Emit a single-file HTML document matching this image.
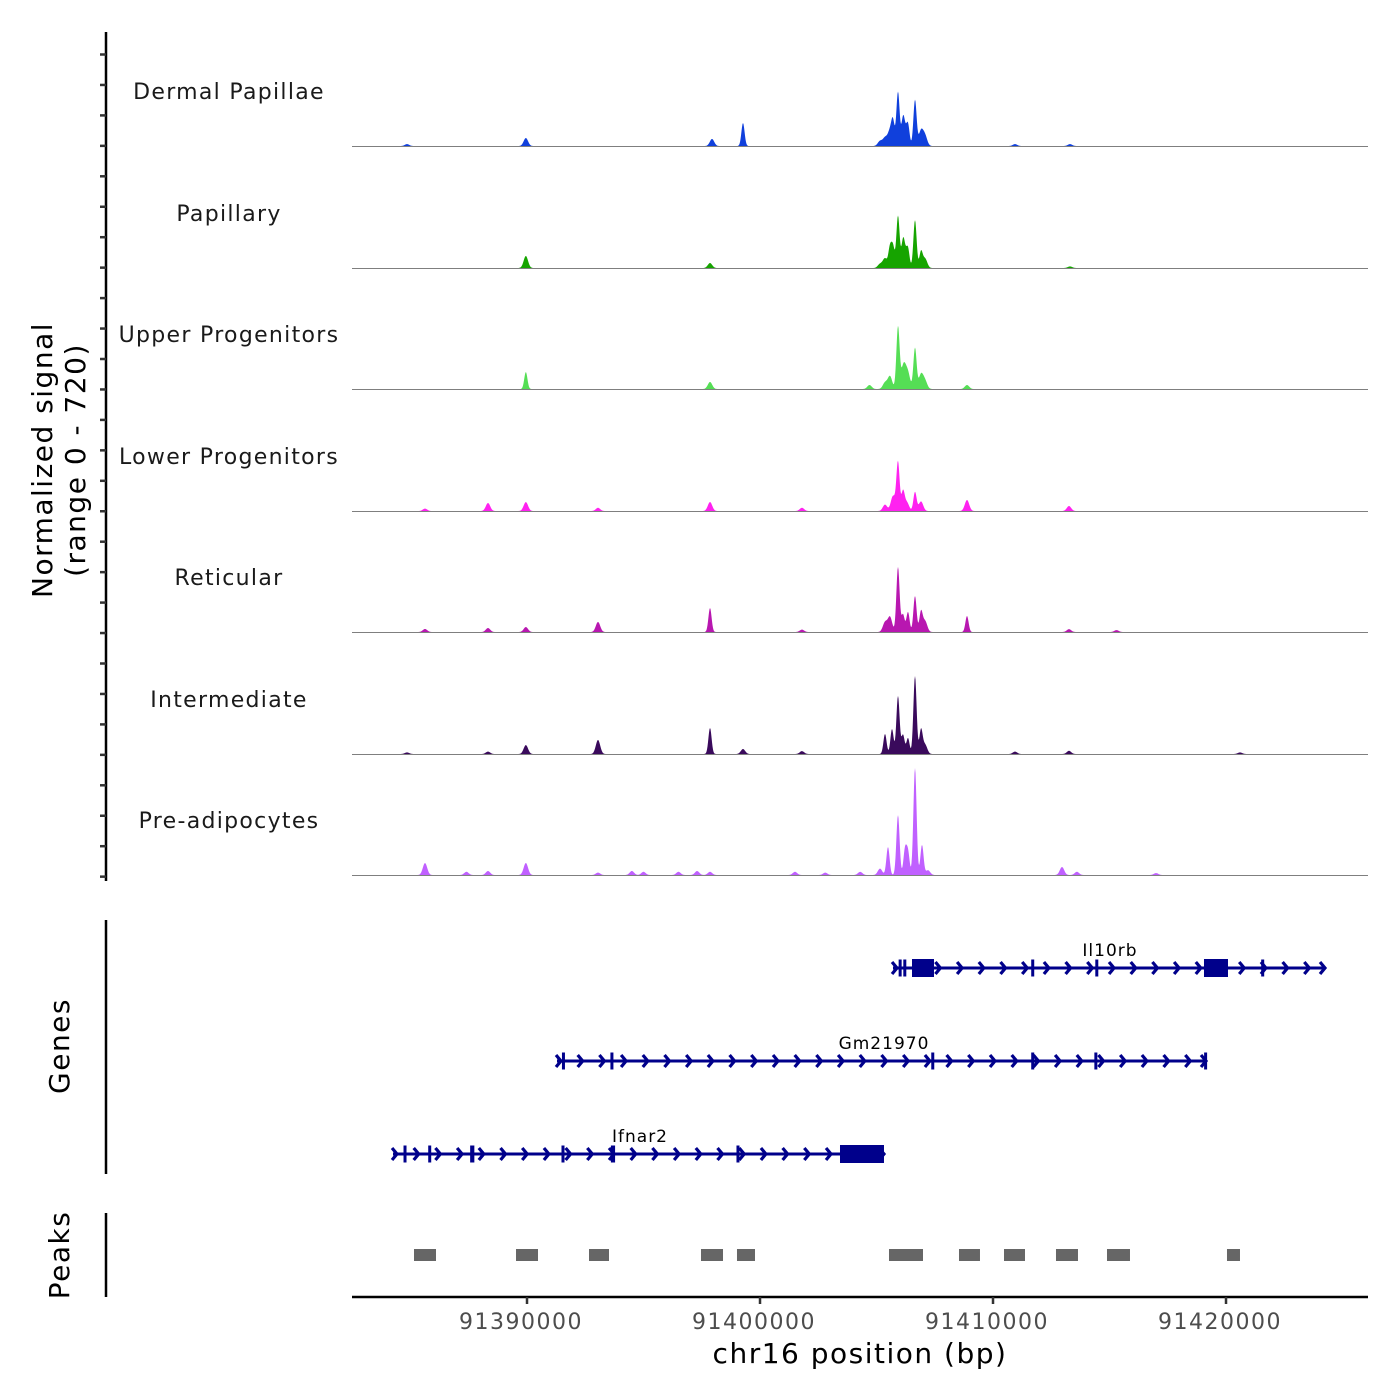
<!DOCTYPE html>
<html><head><meta charset="utf-8">
<style>
html,body{margin:0;padding:0;background:#fff;}
svg{display:block;font-family:"DejaVu Sans","Liberation Sans",sans-serif;}
</style></head>
<body>
<svg id="chart" width="1400" height="1400" viewBox="0 0 1400 1400" xmlns="http://www.w3.org/2000/svg">
<rect width="1400" height="1400" fill="#fff"/>
<g id="tracks"></g>
<g id="genes"></g>
<g id="peaks"></g>
<g id="axes"></g>
</svg>
<script>
// ---- data ----
const xStart = 91382489, xEnd = 91426094;
const xTicks = [91390000, 91400000, 91410000, 91420000];
const yMax = 720;
const trackNames = ["Dermal Papillae","Papillary","Upper Progenitors","Lower Progenitors","Reticular","Intermediate","Pre-adipocytes"];
const trackColors = ["#1040dc","#16a400","#55de55","#ff22f0","#b817b0","#3a0a5c","#c060ff"];
// peak positions (bp) and signal values per track
const dpPos = [91384849,91389950,91397940,91399270,91405150,91405365,91405579,91405708,91405922,91406137,91406351,91406652,91406909,91407081,91410944,91413304,91406200];
const dpVal = [12,50,44,144,31,50,94,138,338,125,125,288,94,63,12,12,80];
const papPos = [91389950,91397854,91405150,91405365,91405579,91405708,91405922,91406137,91406351,91406652,91406909,91407081,91413304,91406200];
const papVal = [75,31,25,60,125,130,326,120,110,300,100,60,10,85];
const upPos = [91389950,91397854,91404700,91405365,91405579,91405922,91406137,91406351,91406652,91406909,91407081,91408884,91406200];
const upVal = [106,44,25,40,80,388,90,94,257,90,50,25,70];
const lowPos = [91385622,91388326,91389950,91393047,91397854,91401800,91405365,91405708,91405922,91406137,91406652,91406909,91408884,91413261,91406300];
const lowVal = [15,50,56,20,56,20,40,94,307,120,119,60,69,31,55];
const retPos = [91385622,91388326,91389950,91393047,91397854,91401800,91405365,91405579,91405922,91406137,91406351,91406652,91406909,91407081,91408884,91413261,91415300];
const retVal = [19,25,31,63,150,15,60,94,407,110,125,225,125,70,100,18,12];
const intPos = [91384849,91388326,91389950,91393047,91397854,91399270,91401800,91405365,91405665,91405922,91406137,91406351,91406652,91406909,91407081,91410944,91413261,91420600];
const intVal = [10,15,56,88,163,31,18,125,156,363,120,100,488,150,60,15,20,10];
const prePos = [91385622,91387400,91388326,91389950,91393047,91394500,91395000,91396500,91397300,91397854,91401500,91402800,91404300,91405150,91405493,91405922,91406223,91406352,91406652,91406952,91407210,91412961,91413600,91417000];
const preVal = [75,20,25,75,15,25,20,20,25,20,20,15,20,40,175,375,156,140,670,188,30,50,20,12];
const trackPos = [dpPos,papPos,upPos,lowPos,retPos,intPos,prePos];
const trackVal = [dpVal,papVal,upVal,lowVal,retVal,intVal,preVal];

// genes
const geneNames = ["Il10rb","Gm21970","Ifnar2"];
const geneStart = [91405708,91391287,91384249];
const geneEnd = [91424248,91419141,91405321];
const geneExonStart = [
  [91405950,91406150,91406523,91411640,91414390,91419055,91421510],
  [91391500,91393580,91407350,91411640,91414350,91419060],
  [91384700,91385760,91387560,91391480,91393600,91398990,91403433]];
const geneExonEnd = [
  [91406030,91406260,91407467,91411710,91414460,91420085,91421580],
  [91391590,91393700,91407410,91411710,91414420,91419130],
  [91384720,91385830,91387740,91391540,91393780,91399030,91405321]];
// peaks
const peakStart = [91385150,91389528,91392661,91397467,91399012,91405536,91408540,91410472,91412703,91414892,91420042];
const peakEnd = [91386094,91390472,91393519,91398412,91399785,91406995,91409441,91411373,91413647,91415879,91420600];

// ---- scales ----
const plotL = 352, plotR = 1368;
const xScale = bp => plotL + (bp - xStart) / (xEnd - xStart) * (plotR - plotL);
const baselines = [146,268,389,511,632,754,875];
const pxPerUnit = 115 / yMax;
const NS = "http://www.w3.org/2000/svg";
function mk(tag, attrs, parent){const e=document.createElementNS(NS,tag);for(const k in attrs)e.setAttribute(k,attrs[k]);parent.appendChild(e);return e;}

// ---- signal tracks ----
const tg = document.getElementById('tracks');
trackNames.forEach((name, i) => {
  const g = mk('g', {}, tg);
  
  
  const base = baselines[i];
  const pos = trackPos[i], val = trackVal[i];
  let pts = [plotL + ',' + base];
  for (let x = plotL; x <= plotR; x += 0.5) {
    let s = 0;
    for (let k = 0; k < pos.length; k++) {
      const px = xScale(pos[k]);
      const sig = val[k] < 100 ? 2.2 : 1.6;
      const d = (x - px) / sig;
      if (Math.abs(d) < 5) s += val[k] * Math.exp(-0.5 * d * d);
    }
    pts.push(x + ',' + (base - s * pxPerUnit).toFixed(2));
  }
  pts.push(plotR + ',' + base);
  const area = mk('polygon', {points: pts.join(' '), fill: trackColors[i]}, g);
  
  
  const bl = mk('line', {x1: plotL, x2: plotR, y1: base + 0.5, y2: base + 0.5, stroke: '#7f7f7f', 'stroke-width': 1}, g);
  
  
  const lab = mk('text', {x: 229, y: base - 47, 'text-anchor': 'middle', 'font-size': 22, fill: '#1a1a1a', 'letter-spacing': '1.3'}, g);
  lab.textContent = name;
  
  
});

// ---- genes ----
const gg = document.getElementById('genes');
const geneY = [968, 1061, 1154];
const geneLabelX = [1110, 884, 640];
const gc = '#00008b';
geneNames.forEach((name, i) => {
  const g = mk('g', {}, gg);
  
  
  const y = geneY[i];
  const x1 = xScale(geneStart[i]), x2 = xScale(geneEnd[i]);
  mk('line', {x1, x2, y1: y, y2: y, stroke: gc, 'stroke-width': 3}, g);
  for (let x = x1 + 4; x < x2 - 2; x += 21.7) {
    mk('polyline', {points: (x-5)+','+(y-6)+' '+x+','+y+' '+(x-5)+','+(y+6), fill:'none', stroke: gc, 'stroke-width': 3.2}, g);
  }
  mk('polyline', {points: (x2-5)+','+(y-6)+' '+x2+','+y+' '+(x2-5)+','+(y+6), fill:'none', stroke: gc, 'stroke-width': 3.2}, g);
  geneExonStart[i].forEach((s, k) => {
    const a = xScale(s), b = xScale(geneExonEnd[i][k]);
    const w = Math.max(b - a, 3);
    const h = w > 8 ? 18 : 17;
    const r = mk('rect', {x: a, y: y - h/2, width: w, height: h, fill: gc}, g);
    
    
  });
  const t = mk('text', {x: geneLabelX[i], y: y - 12, 'text-anchor': 'middle', 'font-size': 17, fill: '#000', 'letter-spacing': '1'}, g);
  t.textContent = name;
  
  
});

// ---- peaks ----
const pg = document.getElementById('peaks');
peakStart.forEach((s, k) => {
  const r = mk('rect', {x: xScale(s), y: 1249, width: xScale(peakEnd[k]) - xScale(s), height: 12, fill: '#666'}, pg);
  
  
});

// ---- axes ----
const ag = document.getElementById('axes');
const yAxis = mk('line', {x1: 106, x2: 106, y1: 32, y2: 881, stroke: '#000', 'stroke-width': 2.5}, ag);


for (let k = 0; k <= 27; k++) {
  const y = 54.5 + k * 30.45;
  mk('line', {x1: 100, x2: 106, y1: y, y2: y, stroke: '#333', 'stroke-width': 2.5}, ag);
}
const yt = mk('text', {transform: 'translate(52,460) rotate(-90)', 'text-anchor': 'middle', 'font-size': 28, fill: '#000', 'letter-spacing': '1.5'}, ag);


yt.innerHTML = '<tspan x="0" dy="0">Normalized signal</tspan><tspan x="0" dy="33">(range 0 - 720)</tspan>';
const ga = mk('line', {x1: 106, x2: 106, y1: 920, y2: 1174, stroke: '#000', 'stroke-width': 2.5}, ag);


const gt = mk('text', {transform: 'translate(69,1046) rotate(-90)', 'text-anchor': 'middle', 'font-size': 28, fill: '#000', 'letter-spacing': '1.5'}, ag);
gt.textContent = 'Genes';


const pa = mk('line', {x1: 106, x2: 106, y1: 1213, y2: 1297, stroke: '#000', 'stroke-width': 2.5}, ag);


const pt = mk('text', {transform: 'translate(69,1255) rotate(-90)', 'text-anchor': 'middle', 'font-size': 28, fill: '#000', 'letter-spacing': '1.5'}, ag);
pt.textContent = 'Peaks';


const xa = mk('line', {x1: plotL, x2: plotR, y1: 1297, y2: 1297, stroke: '#000', 'stroke-width': 2.5}, ag);


xTicks.forEach(v => {
  const x = xScale(v);
  mk('line', {x1: x, x2: x, y1: 1297, y2: 1304, stroke: '#333', 'stroke-width': 2.5}, ag);
  const t = mk('text', {x: x - 6, y: 1329, 'text-anchor': 'middle', 'font-size': 22, fill: '#4d4d4d', 'letter-spacing': '1.5'}, ag);
  t.textContent = v;
  
  
});
const xt = mk('text', {x: 860, y: 1363, 'text-anchor': 'middle', 'font-size': 28, fill: '#000', 'letter-spacing': '1.5'}, ag);
xt.textContent = 'chr16 position (bp)';


</script>
</body></html>
